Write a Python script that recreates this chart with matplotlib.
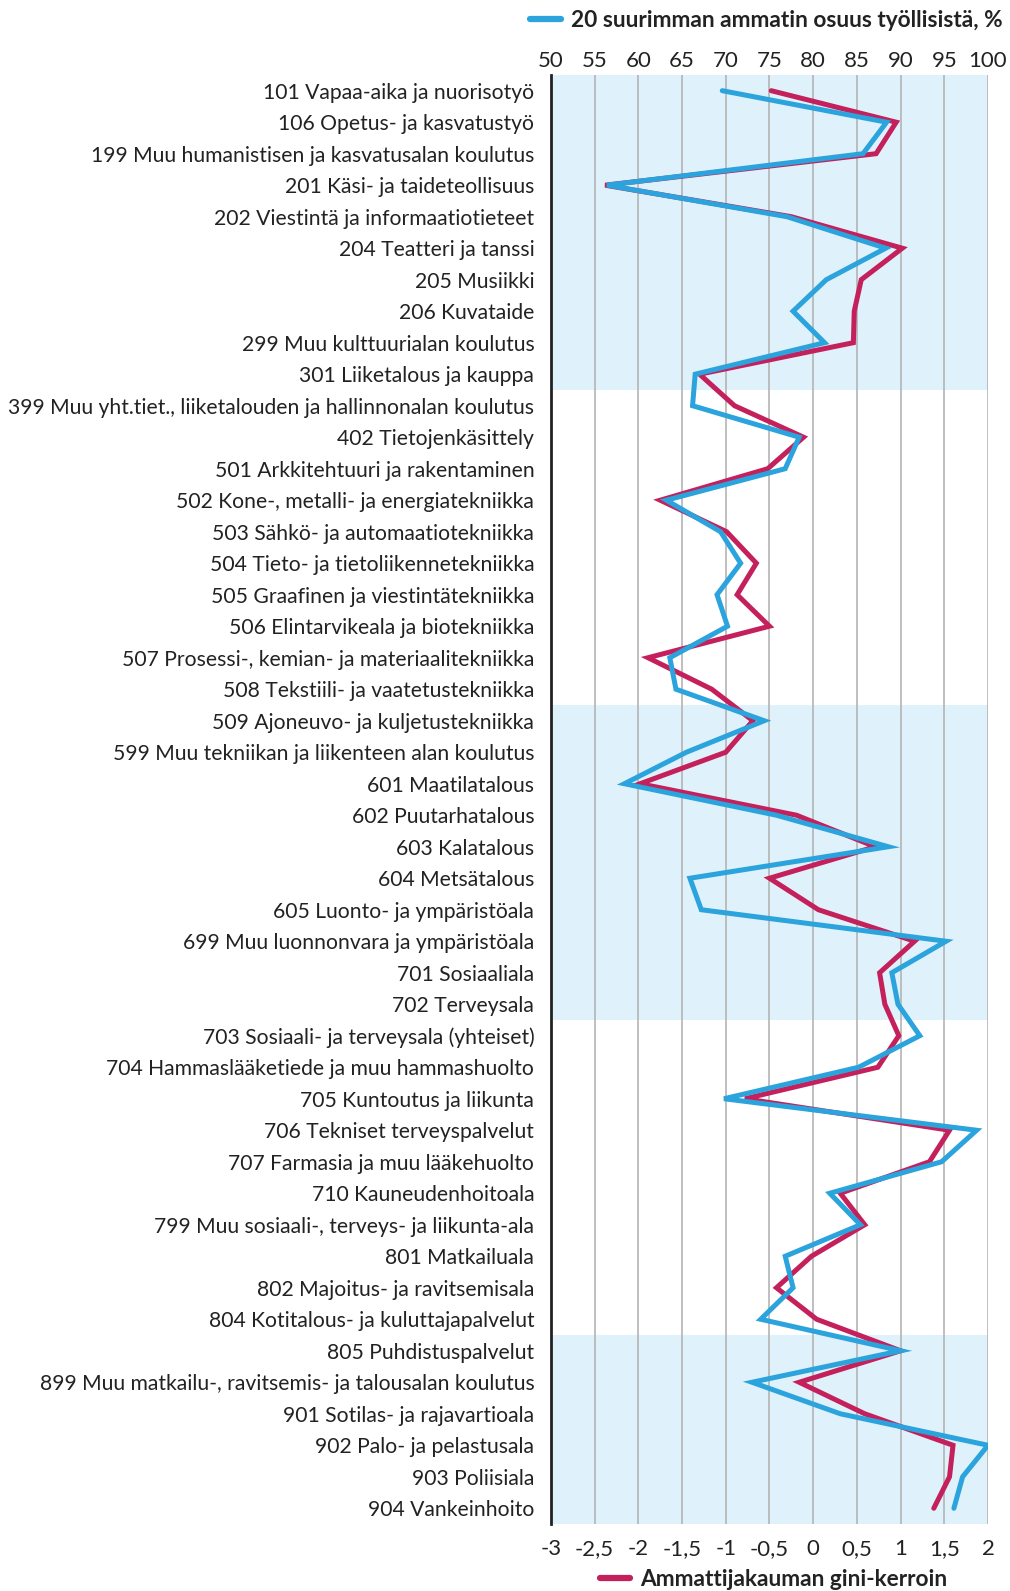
import matplotlib
matplotlib.use("Agg")
import matplotlib.pyplot as plt
from matplotlib.lines import Line2D

plt.rcParams['font.family'] = ['Lato', 'DejaVu Sans']

categories = [
    "101 Vapaa-aika ja nuorisotyö",
    "106 Opetus- ja kasvatustyö",
    "199 Muu humanistisen ja kasvatusalan koulutus",
    "201 Käsi- ja taideteollisuus",
    "202 Viestintä ja informaatiotieteet",
    "204 Teatteri ja tanssi",
    "205 Musiikki",
    "206 Kuvataide",
    "299 Muu kulttuurialan koulutus",
    "301 Liiketalous ja kauppa",
    "399 Muu yht.tiet., liiketalouden ja hallinnonalan koulutus",
    "402 Tietojenkäsittely",
    "501 Arkkitehtuuri ja rakentaminen",
    "502 Kone-, metalli- ja energiatekniikka",
    "503 Sähkö- ja automaatiotekniikka",
    "504 Tieto- ja tietoliikennetekniikka",
    "505 Graafinen ja viestintätekniikka",
    "506 Elintarvikeala ja biotekniikka",
    "507 Prosessi-, kemian- ja materiaalitekniikka",
    "508 Tekstiili- ja vaatetustekniikka",
    "509 Ajoneuvo- ja kuljetustekniikka",
    "599 Muu tekniikan ja liikenteen alan koulutus",
    "601 Maatilatalous",
    "602 Puutarhatalous",
    "603 Kalatalous",
    "604 Metsätalous",
    "605 Luonto- ja ympäristöala",
    "699 Muu luonnonvara ja ympäristöala",
    "701 Sosiaaliala",
    "702 Terveysala",
    "703 Sosiaali- ja terveysala (yhteiset)",
    "704 Hammaslääketiede ja muu hammashuolto",
    "705 Kuntoutus ja liikunta",
    "706 Tekniset terveyspalvelut",
    "707 Farmasia ja muu lääkehuolto",
    "710 Kauneudenhoitoala",
    "799 Muu sosiaali-, terveys- ja liikunta-ala",
    "801 Matkailuala",
    "802 Majoitus- ja ravitsemisala",
    "804 Kotitalous- ja kuluttajapalvelut",
    "805 Puhdistuspalvelut",
    "899 Muu matkailu-, ravitsemis- ja talousalan koulutus",
    "901 Sotilas- ja rajavartioala",
    "902 Palo- ja pelastusala",
    "903 Poliisiala",
    "904 Vankeinhoito",
]

top20_share = [
    69.6, 88.4, 85.7, 56.4, 77.0, 88.3, 81.5, 77.7, 81.3, 66.5,
    66.2, 78.4, 76.8, 63.2, 69.4, 71.7, 69.0, 70.2, 63.6, 64.3,
    74.4, 65.5, 58.4, 75.8, 88.6, 65.9, 67.2, 95.2, 89.0, 89.7,
    92.2, 85.2, 69.8, 98.7, 94.7, 81.9, 85.4, 76.8, 77.7, 74.0,
    90.0, 73.0, 83.1, 100.0, 97.1, 96.1,
]

gini = [
    -0.48, 0.95, 0.72, -2.38, -0.25, 1.02, 0.55, 0.47, 0.46, -1.30,
    -0.90, -0.11, -0.52, -1.75, -0.99, -0.65, -0.87, -0.50, -1.89, -1.16,
    -0.69, -1.00, -1.98, -0.19, 0.71, -0.50, 0.06, 1.16, 0.76, 0.82,
    0.98, 0.74, -0.78, 1.56, 1.33, 0.31, 0.59, -0.02, -0.42, 0.04,
    1.00, -0.16, 0.59, 1.60, 1.56, 1.38,
]

shaded_ranges = [(0, 9), (20, 29), (40, 45)]

gini_ticks = [-3, -2.5, -2, -1.5, -1, -0.5, 0, 0.5, 1, 1.5, 2]
gini_ticklabels = ["-3", "-2,5", "-2", "-1,5", "-1", "-0,5", "0", "0,5", "1", "1,5", "2"]
share_ticks = [50, 55, 60, 65, 70, 75, 80, 85, 90, 95, 100]

label_share = "20 suurimman ammatin osuus työllisistä, %"
label_gini = "Ammattijakauman gini-kerroin"

BLUE = "#2ba3dc"
MAGENTA = "#c4205b"
BAND = "#dff1fb"
GRID = "#b4b4b4"
TXT = "#222222"

fig = plt.figure(figsize=(10.10, 15.91), dpi=100)
ax = fig.add_axes([0.5455, 0.0421, 0.4327, 0.9108])
ypos = list(range(len(categories)))

for a, b in shaded_ranges:
    ax.axhspan(a - 0.5, b + 0.5, color=BAND, lw=0, zorder=0)

ax.plot(gini, ypos, color=MAGENTA, lw=3.6, solid_joinstyle='miter', solid_capstyle='round', zorder=3)
ax.set_xlim(-3, 2)
ax.set_ylim(len(categories) - 0.5, -0.5)
ax.set_xticks(gini_ticks)
ax.set_xticklabels(gini_ticklabels)
ax.set_yticks(ypos)
ax.set_yticklabels(categories)
for x in gini_ticks[1:]:
    ax.axvline(x, color=GRID, lw=1.2, zorder=1)
ax.tick_params(axis='y', length=0, labelsize=15.2, colors=TXT, pad=12)
ax.tick_params(axis='x', length=0, labelsize=16, colors=TXT, pad=11)
for s in ['top', 'right', 'bottom']:
    ax.spines[s].set_visible(False)
ax.spines['left'].set_color('#222222')
ax.spines['left'].set_linewidth(2)
ax.spines['left'].set_zorder(5)

ax2 = ax.twiny()
ax2.plot(top20_share, ypos, color=BLUE, lw=3.6, solid_joinstyle='miter', solid_capstyle='round', zorder=4)
ax2.set_xlim(50, 100)
ax2.set_xticks(share_ticks)
ax2.tick_params(axis='x', length=0, labelsize=16, colors=TXT, pad=2.5)
for s in ['top', 'right', 'bottom', 'left']:
    ax2.spines[s].set_visible(False)

h1 = Line2D([], [], color=BLUE, lw=4.5, solid_capstyle='round')
h2 = Line2D([], [], color=MAGENTA, lw=4.5, solid_capstyle='round')
fig.legend(handles=[h1], labels=[label_share], loc='center left',
           bbox_to_anchor=(0.505, 0.987), frameon=False,
           prop={'weight': 'bold', 'size': 16.3}, handlelength=1.33,
           handletextpad=0.45, labelcolor=TXT)
fig.legend(handles=[h2], labels=[label_gini], loc='center left',
           bbox_to_anchor=(0.583, 0.0075), frameon=False,
           prop={'weight': 'bold', 'size': 16.3}, handlelength=1.33,
           handletextpad=0.45, labelcolor=TXT, borderaxespad=0.1)

fig.savefig("out.png", dpi=100)
